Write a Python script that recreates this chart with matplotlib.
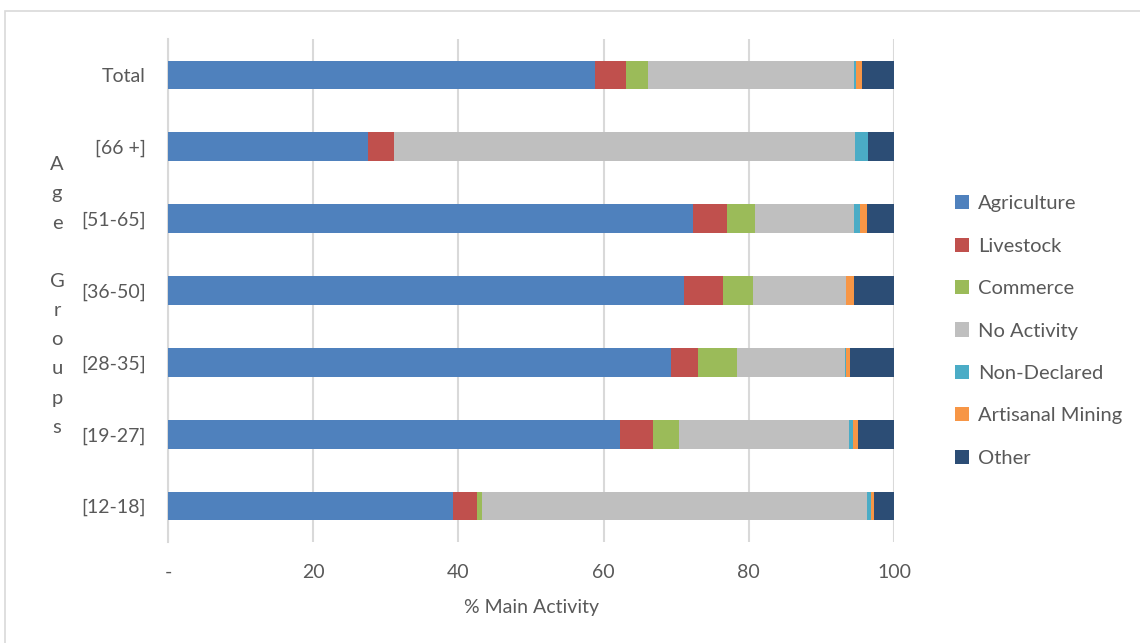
import numpy as np
import matplotlib
matplotlib.use('Agg')
import matplotlib.pyplot as plt
from matplotlib.patches import Rectangle, Patch

plt.rcParams['font.family'] = ['Lato', 'DejaVu Sans']

# age groups, top to bottom
groups = ['Total', '[66 +]', '[51-65]', '[36-50]', '[28-35]', '[19-27]', '[12-18]']

# share of main activity (%) per group
agriculture   = [58.8, 27.5, 72.3, 71.1, 69.3, 62.3, 39.3]
livestock     = [4.3, 3.6, 4.7, 5.3, 3.7, 4.5, 3.3]
commerce      = [3.0, 0.0, 3.9, 4.2, 5.4, 3.6, 0.7]
no_activity   = [28.4, 63.5, 13.6, 12.8, 14.9, 23.4, 53.0]
non_declared  = [0.3, 1.8, 0.8, 0.0, 0.1, 0.6, 0.5]
artisanal     = [0.8, 0.0, 1.0, 1.1, 0.5, 0.6, 0.4]
other         = [4.4, 3.6, 3.7, 5.5, 6.1, 5.0, 2.8]

series = [
    ('Agriculture', agriculture, '#4F81BD'),
    ('Livestock', livestock, '#C0504D'),
    ('Commerce', commerce, '#9BBB59'),
    ('No Activity', no_activity, '#BFBFBF'),
    ('Non-Declared', non_declared, '#4BACC6'),
    ('Artisanal Mining', artisanal, '#F79646'),
    ('Other', other, '#2C4D75'),
]

txt = '#595959'

fig = plt.figure(figsize=(11.4, 6.43), dpi=100)
ax = fig.add_axes([168/1140, 1-542/643, 726/1140, 503/643])

# light frame around the chart
fig.patches.append(Rectangle((5/1140, -0.1), 1.2, 1-11/643+0.1, transform=fig.transFigure,
                             fill=False, edgecolor='#d9d9d9', lw=1.2))

y = np.arange(len(groups))
left = np.zeros(len(groups))
handles = []
for name, vals, col in series:
    vals = np.array(vals)
    ax.barh(y, vals, left=left, height=0.4, color=col, zorder=3)
    left += vals
    handles.append(Patch(facecolor=col, label=name))

ax.set_xlim(0, 100)
ax.set_ylim(len(groups) - 0.5, -0.5)
ax.set_xticks([0, 20, 40, 60, 80, 100])
ax.set_xticklabels(['-', '20', '40', '60', '80', '100'])
ax.set_yticks(y)
ax.set_yticklabels(groups)
ax.grid(axis='x', color='#d9d9d9', lw=1.5, zorder=0)
ax.tick_params(axis='both', length=0, colors=txt, labelsize=14)
ax.tick_params(axis='y', pad=16)
ax.tick_params(axis='x', pad=16)
for s in ['top', 'right', 'bottom']:
    ax.spines[s].set_visible(False)
ax.spines['left'].set_color('#d9d9d9')
ax.spines['left'].set_linewidth(1.5)

ax.set_xlabel('% Main Activity', color=txt, fontsize=14, labelpad=13)

fig.text(57/1140, 1-296/643, 'A\ng\ne\n\nG\nr\no\nu\np\ns', ha='center', va='center',
         color=txt, fontsize=14.5, linespacing=1.87)

fig.legend(handles=handles, loc='center left', bbox_to_anchor=(937/1140, 1-331/643),
           frameon=False, fontsize=14.5, labelcolor=txt, handlelength=0.7,
           handleheight=0.7, handletextpad=0.45, labelspacing=1.26)

fig.savefig('out.png', dpi=100)
